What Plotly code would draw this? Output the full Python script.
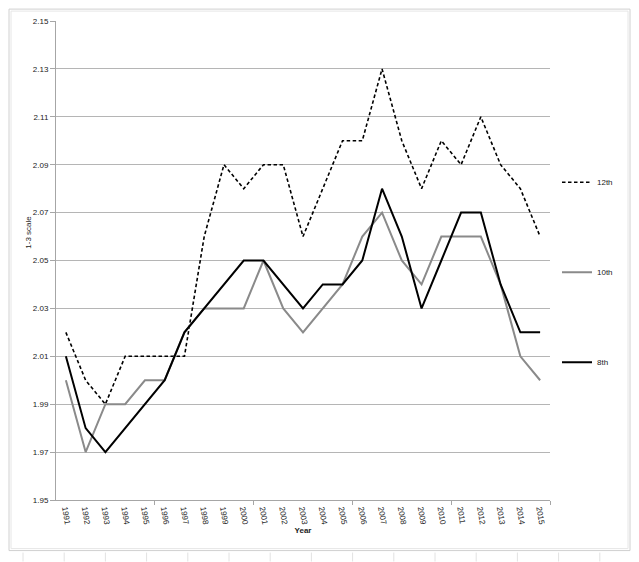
import plotly.graph_objects as go

years = list(range(1991, 2016))
grade12 = [2.02, 2.00, 1.99, 2.01, 2.01, 2.01, 2.01, 2.06, 2.09, 2.08, 2.09, 2.09, 2.06,
           2.08, 2.10, 2.10, 2.13, 2.10, 2.08, 2.10, 2.09, 2.11, 2.09, 2.08, 2.06]
grade10 = [2.00, 1.97, 1.99, 1.99, 2.00, 2.00, 2.02, 2.03, 2.03, 2.03, 2.05, 2.03, 2.02,
           2.03, 2.04, 2.06, 2.07, 2.05, 2.04, 2.06, 2.06, 2.06, 2.04, 2.01, 2.00]
grade8 = [2.01, 1.98, 1.97, 1.98, 1.99, 2.00, 2.02, 2.03, 2.04, 2.05, 2.05, 2.04, 2.03,
          2.04, 2.04, 2.05, 2.08, 2.06, 2.03, 2.05, 2.07, 2.07, 2.04, 2.02, 2.02]
y_ticks = [1.95, 1.97, 1.99, 2.01, 2.03, 2.05, 2.07, 2.09, 2.11, 2.13, 2.15]

# the page body has an 8px margin, so the figure is drawn 8px in from the window edge
OFF = 8
PAGE_W, PAGE_H = 639, 562
W, H = PAGE_W - OFF, PAGE_H - OFF
# plot area edges in page pixels
L, R, T, B = 56, 550, 17, 500


def px(x):
    return (x - L) / (R - L)


def py(y):
    return (B - y) / (B - T)


fig = go.Figure()
fig.add_trace(go.Scatter(x=years, y=grade12, mode="lines", name="12th", legendgroup="a",
                         line=dict(color="black", width=1.6, dash="3.5px,2.5px")))
fig.add_trace(go.Scatter(x=years, y=grade10, mode="lines", name="10th", legendgroup="b",
                         line=dict(color="#8a8a8a", width=2)))
fig.add_trace(go.Scatter(x=years, y=grade8, mode="lines", name="8th", legendgroup="c",
                         line=dict(color="black", width=2)))

shapes = []
grid_col = "#e2e2e2"
# spreadsheet cell lines outside the chart frame
yy = 13.5
while yy < PAGE_H:
    shapes.append(dict(type="line", xref="paper", yref="paper",
                       x0=px(632), x1=px(PAGE_W), y0=py(yy), y1=py(yy),
                       line=dict(color=grid_col, width=1)))
    yy += 10.5
xx = 23.0
while xx < PAGE_W:
    shapes.append(dict(type="line", xref="paper", yref="paper",
                       x0=px(xx), x1=px(xx), y0=py(553), y1=py(PAGE_H),
                       line=dict(color=grid_col, width=1)))
    xx += 41.2
# chart frame (double light border)
shapes.append(dict(type="rect", xref="paper", yref="paper",
                   x0=px(9), x1=px(630), y0=py(551), y1=py(5),
                   line=dict(color="#d0d0d0", width=1)))
shapes.append(dict(type="rect", xref="paper", yref="paper",
                   x0=px(11), x1=px(628), y0=py(549), y1=py(7),
                   line=dict(color="#e6e6e6", width=1)))

font_family = "Liberation Sans, Arial, sans-serif"

fig.update_layout(
    width=W, height=H,
    margin=dict(l=L - OFF, r=PAGE_W - R, t=T - OFF, b=PAGE_H - B),
    paper_bgcolor="white", plot_bgcolor="white",
    font=dict(family=font_family, size=8, color="#222"),
    shapes=shapes,
    showlegend=True,
    legend=dict(x=px(557), y=py(165), xanchor="left", yanchor="top",
                tracegroupgap=71, font=dict(size=8, color="#222"),
                bgcolor="rgba(0,0,0,0)", itemwidth=30),
    annotations=[dict(text="1-3 scale", xref="paper", yref="paper",
                      x=px(22), y=py(230), textangle=-90, showarrow=False,
                      font=dict(size=8, color="#222"))],
    xaxis=dict(range=[1990.5, 2015.5], tickvals=years, ticktext=[str(y) for y in years],
               tickangle=80, ticks="", showgrid=False, zeroline=False,
               showline=True, linecolor="#a6a6a6", linewidth=1,
               tickfont=dict(size=8, color="#222"),
               minor=dict(tickvals=[1995.5, 2000.5, 2005.5, 2010.5, 2015.5],
                          ticks="outside", ticklen=4, tickcolor="#a6a6a6", showgrid=False),
               title=dict(text="<b>Year</b>", font=dict(size=8, color="#222"), standoff=2)),
    yaxis=dict(range=[1.95, 2.15], tickvals=y_ticks, ticktext=[f"{v:.2f}" for v in y_ticks],
               ticks="outside", ticklen=5, tickcolor="#a6a6a6",
               showgrid=True, gridcolor="#b5b5b5", gridwidth=1, zeroline=False,
               showline=True, linecolor="#a6a6a6", linewidth=1,
               tickfont=dict(size=8, color="#222")),
)

fig.write_html("out.html")
